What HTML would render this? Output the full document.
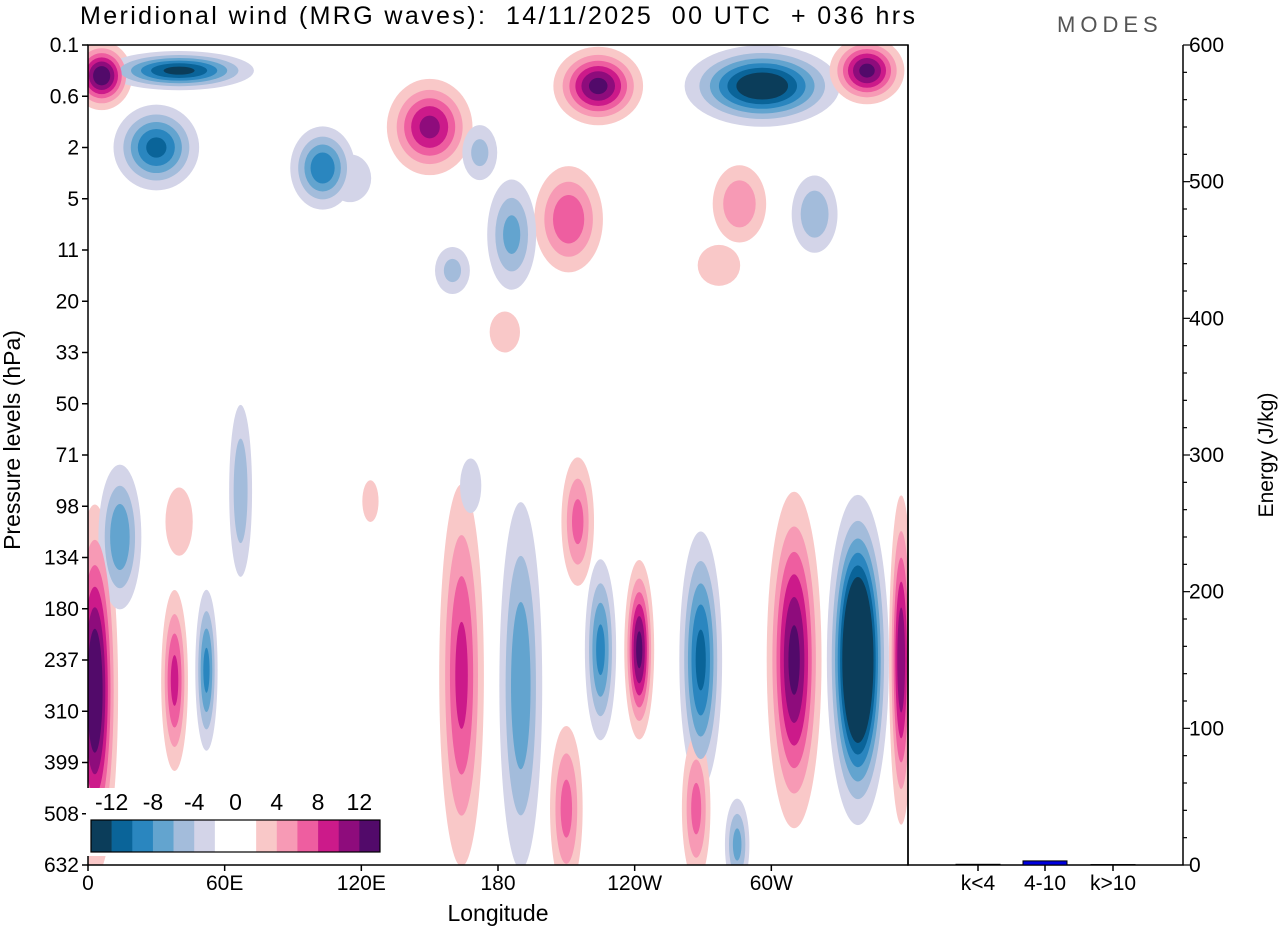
<!DOCTYPE html>
<html><head><meta charset="utf-8"><style>
body{margin:0;background:#fff;font-family:"Liberation Sans",sans-serif;}
svg text{font-family:"Liberation Sans",sans-serif;fill:#000;white-space:pre;}
</style></head><body>
<svg id="c" width="1280" height="930" viewBox="0 0 1280 930" xmlns="http://www.w3.org/2000/svg">
<defs><clipPath id="pc"><rect x="88" y="45" width="820" height="820"/></clipPath></defs>
<rect x="0" y="0" width="1280" height="930" fill="#fff"/>
<text x="80" y="24" font-size="25" textLength="835" lengthAdjust="spacing" xml:space="preserve">Meridional wind (MRG waves):  14/11/2025  00 UTC  + 036 hrs</text>
<text x="1057" y="32" font-size="22" letter-spacing="5" style="fill:#555">MODES</text>
<g id="field" clip-path="url(#pc)"></g>
<g id="axes"></g>
</svg>
<script>
// Data
const levelLabels=["0.1","0.6","2","5","11","20","33","50","71","98","134","180","237","310","399","508","632"];
const lonTicks=[0,60,120,180,240,300];
const lonLabels=["0","60E","120E","180","120W","60W"];
const contourLevels=[2,4,6,8,10,12];
const negColors=["#d3d4e8","#a3bcdb","#63a4cf","#2a86bf","#0a6499","#0b3d5a"];
const posColors=["#f9c8c8","#f79ab5","#ee5ea0","#cc1a8a","#8e0c7c","#520a6a"];
// blobs: lon(deg), level index, half-width(deg), half-height(levels), amplitude(m/s)
const blobLon=[3,14,38,52,67,164,190,210,225,242,269,267,285,310,338,357,215,168,40,124,6,40,30,103,150,224,296,342,211,186,286,319,277,183,160,172,115];
const blobLev=[12.6,9.6,12.4,12.2,8.7,12.3,12.5,14.9,11.8,11.8,12,14.9,15.6,12,12,12,9.3,8.6,9.3,8.9,0.6,0.5,2.0,2.4,1.6,0.8,0.8,0.5,3.4,3.7,3.1,3.3,4.3,5.6,4.4,2.1,2.6];
const blobW=[9,10,6,5,6,10,10,8,7,6,9,7,6,11,11,5,8,7,9,7,12,30,18,14,18,18,30,15,16,12,14,12,14,10,10,10,14];
const blobH=[3.2,1.5,1.8,1.6,2,3.8,3.8,1.8,1.8,1.6,2.4,1.6,1,3,2.6,3,1.4,0.8,1,0.8,0.6,0.35,0.8,0.8,0.9,0.7,0.7,0.6,1.1,1.2,0.9,0.9,0.6,0.6,0.6,0.7,0.7];
const blobAmp=[15,-8,9,-9,-6,9,-8,7,-9,13,-11,7,-7,13,-22,12,7,-4,4,3,14,-13,-11,-10,11,13,-15,13,8,-7,6,-6,4,4,-5,-5,-4];
// Energy bars
const barCats=["k<4","4-10","k>10"];
const barVals=[0.5,3,0.3];
const energyTicks=[0,100,200,300,400,500,600];

const NS="http://www.w3.org/2000/svg";
const X0=88,X1=908,Y0=45,Y1=865;
const xLon=l=>X0+(l/360)*(X1-X0);
const yLev=i=>Y0+i*(Y1-Y0)/16;
const yE=v=>Y1-(v/600)*(Y1-Y0);
function mk(tag,attrs,parent){const e=document.createElementNS(NS,tag);for(const k in attrs)e.setAttribute(k,attrs[k]);parent.appendChild(e);return e;}
const field=document.getElementById('field');
const axes=document.getElementById('axes');
const pxPerDeg=0.8*(X1-X0)/360,pxPerLev=0.8*(Y1-Y0)/16;
contourLevels.forEach((L,li)=>{
  for(let b=0;b<blobLon.length;b++){
    const A=Math.abs(blobAmp[b]); if(A<=L) continue;
    const r=Math.sqrt(Math.log(A/L));
    const el=mk('ellipse',{cx:xLon(blobLon[b]),cy:yLev(blobLev[b]),rx:blobW[b]*pxPerDeg*r,ry:blobH[b]*pxPerLev*r,fill:blobAmp[b]<0?negColors[li]:posColors[li]},field);
    
    
  }
});
let f=mk('rect',{x:X0,y:Y0,width:X1-X0,height:Y1-Y0,fill:'none',stroke:'#000','stroke-width':1.5},axes);

f=mk('path',{d:`M908 45V865H1183V45`,fill:'none',stroke:'#000','stroke-width':1.5},axes);

levelLabels.forEach((t,i)=>{
  const y=yLev(i);
  mk('line',{x1:X0-6,x2:X0,y1:y,y2:y,stroke:'#000','stroke-width':1.5},axes);
  const tx=mk('text',{x:X0-9,y:y+7,'font-size':21,'text-anchor':'end'},axes);tx.textContent=t;
  
});
lonTicks.forEach((l,i)=>{
  const x=xLon(l);
  mk('line',{x1:x,x2:x,y1:Y1,y2:Y1+6,stroke:'#000','stroke-width':1.5},axes);
  const tx=mk('text',{x:x,y:Y1+25,'font-size':21,'text-anchor':'middle'},axes);tx.textContent=lonLabels[i];
  
});
for(let v=0;v<=600;v+=20){const y=yE(v);const big=v%100===0;
  mk('line',{x1:1183,x2:1183+(big?7:4),y1:y,y2:y,stroke:'#000','stroke-width':1.2},axes);
  if(big){const tx=mk('text',{x:1189,y:y+7,'font-size':21},axes);tx.textContent=v;
  }}
const barX=[978,1045,1113];
barCats.forEach((c,i)=>{
  mk('line',{x1:barX[i],x2:barX[i],y1:Y1,y2:Y1+6,stroke:'#000','stroke-width':1.5},axes);
  const tx=mk('text',{x:barX[i],y:Y1+25,'font-size':21,'text-anchor':'middle'},axes);tx.textContent=c;
  
  const h=Y1-yE(barVals[i]);
  const r=mk('rect',{x:barX[i]-22,y:Y1-h,width:44,height:h,fill:'#0000e0',stroke:'#000','stroke-width':1},axes);
  
});
let t=mk('text',{x:498,y:921,'font-size':23,'text-anchor':'middle'},axes);t.textContent='Longitude';

t=mk('text',{x:0,y:0,'font-size':23,'text-anchor':'middle',transform:'translate(20,440) rotate(-90)'},axes);t.textContent='Pressure levels (hPa)';

t=mk('text',{x:0,y:0,'font-size':21,'text-anchor':'middle',transform:'translate(1273,455) rotate(-90)'},axes);t.textContent='Energy (J/kg)';

const legColors=[...negColors].reverse().concat(['#fff','#fff']).concat(posColors);
const lg=mk('g',{},axes);
mk('rect',{x:86,y:788,width:298,height:68,fill:'#fff'},lg);
const bw=289/14;
legColors.forEach((c,i)=>{mk('rect',{x:91+i*bw,y:820,width:bw+0.3,height:32,fill:c},lg);});
mk('rect',{x:91,y:820,width:289,height:32,fill:'none',stroke:'#000','stroke-width':1.2},lg);
["-12","-8","-4","0","4","8","12"].forEach((s,i)=>{const tx=mk('text',{x:91+(1+2*i)*bw,y:810,'font-size':23,'text-anchor':'middle'},lg);tx.textContent=s;});
</script>
</body></html>
